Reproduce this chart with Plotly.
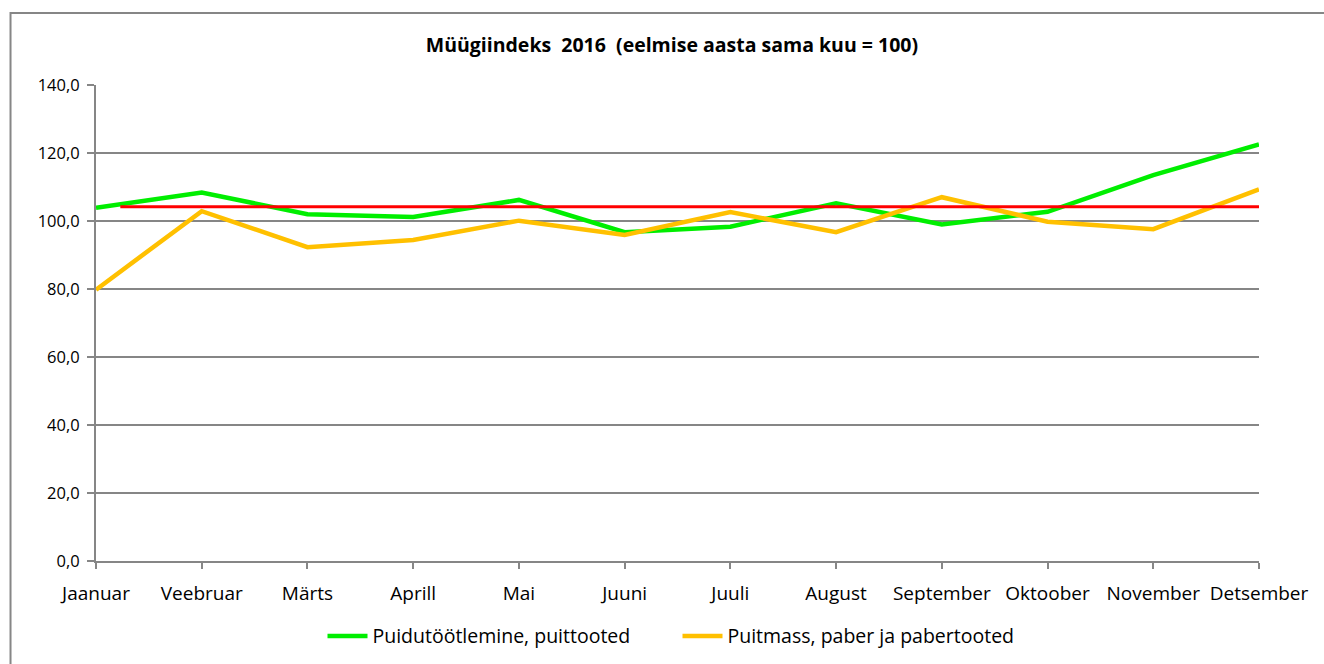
import plotly.graph_objects as go

months = ["Jaanuar", "Veebruar", "Märts", "Aprill", "Mai", "Juuni", "Juuli",
          "August", "September", "Oktoober", "November", "Detsember"]
puidu = [103.9, 108.4, 102.0, 101.2, 106.2, 96.7, 98.3, 105.2, 99.0, 102.7, 113.5, 122.5]
puitmass = [79.8, 102.9, 92.3, 94.4, 100.1, 95.9, 102.6, 96.7, 107.0, 99.8, 97.6, 109.3]
ref_level = 104.2
y_ticks = [0, 20, 40, 60, 80, 100, 120, 140]
y_ticktext = ["0,0", "20,0", "40,0", "60,0", "80,0", "100,0", "120,0", "140,0"]

name1 = "Puidutöötlemine, puittooted"
name2 = "Puitmass, paber ja pabertooted"

xs = list(range(len(months)))

fig = go.Figure()
fig.add_trace(go.Scatter(x=xs, y=puidu, mode="lines", name=name1,
                         line=dict(color="#00EE00", width=4.5)))
fig.add_trace(go.Scatter(x=xs, y=puitmass, mode="lines", name=name2,
                         line=dict(color="#FFC000", width=4.5)))

# reference line
fig.add_shape(type="line", xref="x", yref="y", x0=0.23, x1=11.1,
              y0=ref_level, y1=ref_level, line=dict(color="#FF0000", width=3))

# outer chart border
fig.add_shape(type="rect", xref="paper", yref="paper",
              x0=-0.0735, x1=1.2, y0=-0.5, y1=1.151,
              line=dict(color="#868686", width=2), fillcolor="rgba(0,0,0,0)",
              layer="below")

font_family = "'Open Sans', Lato, sans-serif"

fig.update_layout(
    width=1324, height=664,
    margin=dict(l=96, r=65, t=85, b=103, autoexpand=False),
    paper_bgcolor="white", plot_bgcolor="white",
    title=dict(text="<b>Müügiindeks  2016  (eelmise aasta sama kuu = 100)</b>",
               x=0.5075, xanchor="center", y=0.932, yanchor="middle",
               font=dict(family=font_family, size=19.5, color="#000000")),
    font=dict(family=font_family, size=16, color="#000000"),
    xaxis=dict(type="linear", range=[0, 11], tickvals=xs, ticktext=months,
               showgrid=False, zeroline=False, showline=True,
               linecolor="#868686", linewidth=2, ticks="outside", ticklen=6,
               tickcolor="#868686", tickwidth=2, ticklabelstandoff=8,
               tickfont=dict(family=font_family, size=19, color="#000000")),
    yaxis=dict(range=[0, 140], tickvals=y_ticks, ticktext=y_ticktext,
               showgrid=True, gridcolor="#868686", gridwidth=2,
               zeroline=False, showline=True, linecolor="#868686", linewidth=2,
               ticks="outside", ticklen=7, tickcolor="#868686", tickwidth=2,
               ticklabelstandoff=4,
               tickfont=dict(family=font_family, size=16.5, color="#000000")),
    legend=dict(orientation="h", x=0.5, xanchor="center", y=-0.158,
                yanchor="middle", font=dict(family=font_family, size=19.5),
                itemwidth=40, entrywidth=300, entrywidthmode="pixels"),
    showlegend=True,
)

fig.write_html("out.html", config={"displayModeBar": False},
               post_script="document.body.style.margin='0';")
